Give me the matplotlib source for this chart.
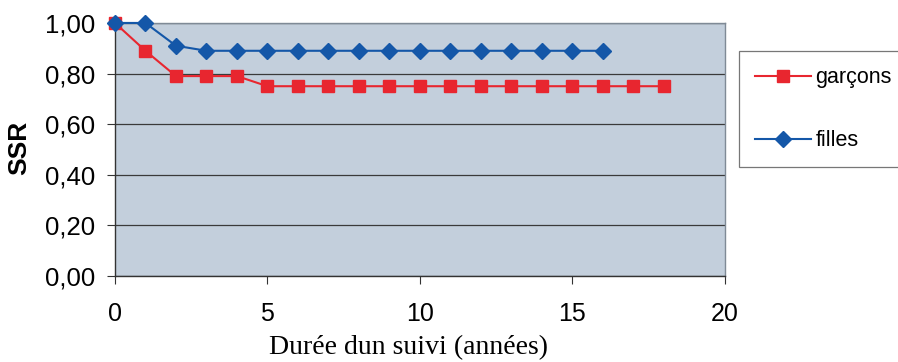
import matplotlib.pyplot as plt
from matplotlib.ticker import FuncFormatter

# --- Data ---
annees_garcons = list(range(0, 19))
ssr_garcons = [1.00, 0.89, 0.79, 0.79, 0.79] + [0.75] * 14

annees_filles = list(range(0, 17))
ssr_filles = [1.00, 1.00, 0.91] + [0.89] * 14

x_ticks = [0, 5, 10, 15, 20]
y_ticks = [0.0, 0.2, 0.4, 0.6, 0.8, 1.0]

RED = "#e8262f"
BLUE = "#1457a8"
BG = "#c3cfdc"


def main():
    fig = plt.figure(figsize=(8.98, 3.62), dpi=100)
    ax = fig.add_axes([0.128, 0.2376, 0.679, 0.699])
    ax.set_facecolor(BG)

    ax.plot(annees_garcons, ssr_garcons, color=RED, linewidth=1.5,
            marker="s", markersize=8.5, label="garçons", clip_on=False, zorder=3)
    ax.plot(annees_filles, ssr_filles, color=BLUE, linewidth=1.5,
            marker="D", markersize=8, label="filles", clip_on=False, zorder=4)

    ax.set_xlim(0, 20)
    ax.set_ylim(0, 1)
    ax.set_xticks(x_ticks)
    ax.set_yticks(y_ticks)
    ax.yaxis.set_major_formatter(FuncFormatter(lambda v, p: f"{v:.2f}".replace(".", ",")))

    ax.grid(axis="y", color="#3a3a3a", linewidth=0.9)
    ax.set_axisbelow(True)

    for side in ["left", "bottom"]:
        ax.spines[side].set_color("#333333")
        ax.spines[side].set_linewidth(1.0)
    for side in ["top", "right"]:
        ax.spines[side].set_color("#7f8a96")
        ax.spines[side].set_linewidth(1.0)

    ax.tick_params(axis="y", direction="out", length=6, pad=8, color="#333333",
                   labelsize=18.5)
    ax.tick_params(axis="x", direction="out", length=6, pad=13, color="#333333",
                   labelsize=18)
    for lab in ax.get_yticklabels() + ax.get_xticklabels():
        lab.set_fontfamily("Liberation Sans")

    ax.set_ylabel("SSR", fontsize=19, fontweight="bold", family="Liberation Sans")
    ax.yaxis.set_label_coords(-0.157, 0.506)
    ax.yaxis.label.set_va("center")

    ax.set_xlabel("Durée dun suivi (années)", fontsize=20, family="Liberation Serif")
    ax.xaxis.set_label_coords(0.482, -0.285)
    ax.xaxis.label.set_va("center")

    leg = fig.legend(loc="upper left", bbox_to_anchor=(0.823, 0.859),
                     prop={"family": "Liberation Sans", "size": 15.5},
                     handlelength=2.6, labelspacing=1.95, borderpad=0.75,
                     borderaxespad=0, handletextpad=0.2,
                     fancybox=False, frameon=True)
    leg.get_frame().set_edgecolor("#555555")
    leg.get_frame().set_linewidth(0.9)

    fig.savefig("out.png", dpi=100)


if __name__ == "__main__":
    main()
